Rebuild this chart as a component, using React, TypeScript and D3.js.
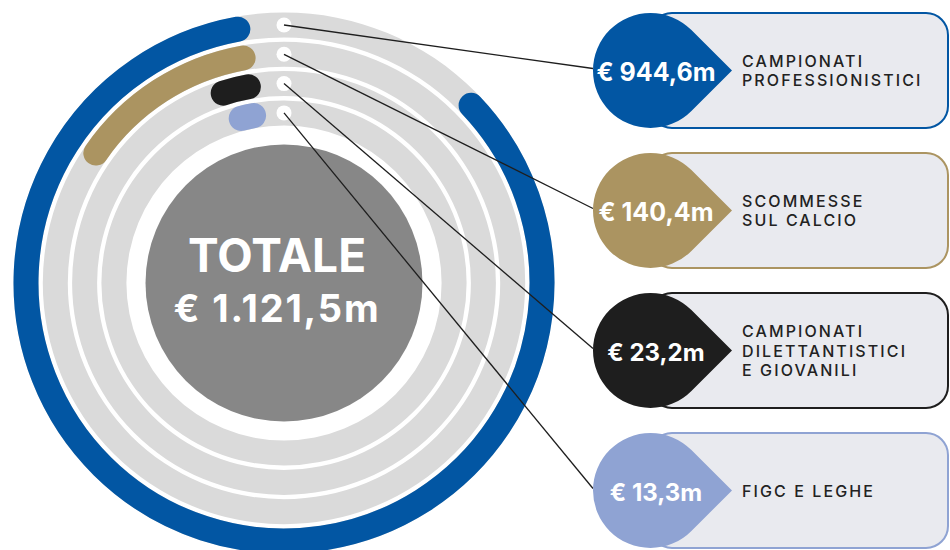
import React from "react";
import * as d3 from "d3";

const categories = [
  ["CAMPIONATI", "PROFESSIONISTICI"],
  ["SCOMMESSE", "SUL CALCIO"],
  ["CAMPIONATI", "DILETTANTISTICI", "E GIOVANILI"],
  ["FIGC E LEGHE"],
];
const values = [944.6, 140.4, 23.2, 13.3];
const valueLabels = ["€ 944,6m", "€ 140,4m", "€ 23,2m", "€ 13,3m"];
const colors = ["#0256a3", "#ab9461", "#1e1e1e", "#8fa3d3"];
const total = 1121.5;
const totalLabel = ["TOTALE", "€ 1.121,5m"];

const W = 950;
const H = 550;
const cx = 284;
const cy = 283;
const FONT = "Inter, 'Open Sans', sans-serif";

export default function App() {
  const angle = d3.scaleLinear().domain([0, total]).range([0, 2 * Math.PI]);
  const endA = (-10.3 * Math.PI) / 180;
  const ring = d3.scaleLinear().domain([0, 3]).range([258, 170.1]);
  const bw = 25;
  const boxY = d3.scaleLinear().domain([0, 3]).range([70.5, 490.5]);

  const track = d3.arc<any>();

  const barPath = (r: number, a0: number, a1: number) => {
    const p = d3.path();
    p.arc(0, 0, r, a0 - Math.PI / 2, a1 - Math.PI / 2, false);
    return p.toString();
  };

  const tr = 57.5;
  const tcx = 650.5;
  const tipX = 732;

  const drop = (y: number) => {
    const a = Math.PI / 4;
    const ux = tcx + tr * Math.cos(a);
    const uy = y - tr * Math.sin(a);
    const p = d3.path();
    p.moveTo(tipX, y);
    p.lineTo(ux, uy);
    p.arc(tcx, y, tr, -a, a, true);
    p.closePath();
    return p.toString();
  };

  return (
    <svg width={W} height={H} style={{ position: "absolute", left: 0, top: 0 }}>
      <rect width={W} height={H} fill="#fff" />
      <g transform={`translate(${cx},${cy})`}>
        {values.map((v, i) => (
          <path
            key={"t" + i}
            d={track({
              innerRadius: ring(i) - bw / 2,
              outerRadius: ring(i) + bw / 2,
              startAngle: 0,
              endAngle: 2 * Math.PI,
            }) as string}
            fill="#dadada"
          />
        ))}
        {values.map((v, i) => (
          <path
            key={"b" + i}
            d={barPath(ring(i), endA - angle(v), endA)}
            fill="none"
            stroke={colors[i]}
            strokeWidth={bw}
            strokeLinecap="round"
          />
        ))}
        <circle r={138.5} fill="#878787" />
        <text
          x={-7}
          y={-11.5}
          textAnchor="middle"
          fill="#fff"
          fontFamily={FONT}
          fontWeight={700}
          fontSize={46}
          letterSpacing={0}
        >
          {totalLabel[0]}
        </text>
        <text
          x={-7}
          y={38.5}
          textAnchor="middle"
          fill="#fff"
          fontFamily={FONT}
          fontWeight={700}
          fontSize={38}
          letterSpacing={1.8}
        >
          {totalLabel[1]}
        </text>
        {values.map((v, i) => (
          <circle key={"d" + i} cx={0} cy={-ring(i)} r={7.5} fill="#fff" />
        ))}
      </g>
      {values.map((v, i) => (
        <line
          key={"l" + i}
          x1={cx}
          y1={cy - ring(i)}
          x2={593}
          y2={boxY(i) - 2}
          stroke="#1e1e1e"
          strokeWidth={1.3}
        />
      ))}
      {values.map((v, i) => {
        const y = boxY(i);
        const lines = categories[i];
        const lh = 19.3;
        const y0 = y + 6 - ((lines.length - 1) * lh) / 2;
        return (
          <g key={"box" + i}>
            <rect
              x={650}
              y={y - 57.5}
              width={298}
              height={115}
              rx={22}
              fill="#e9eaef"
              stroke={colors[i]}
              strokeWidth={2}
            />
            <path d={drop(y)} fill={colors[i]} />
            <text
              x={656}
              y={y + 10}
              textAnchor="middle"
              fill="#fff"
              fontFamily={FONT}
              fontWeight={700}
              fontSize={i < 2 ? 25 : 24}
            >
              {valueLabels[i]}
            </text>
            {lines.map((t, j) => (
              <text
                key={j}
                x={742}
                y={y0 + j * lh}
                fill="#222"
                fontFamily={FONT}
                fontWeight={500}
                fontSize={16}
                letterSpacing={2.1}
              >
                {t}
              </text>
            ))}
          </g>
        );
      })}
    </svg>
  );
}
